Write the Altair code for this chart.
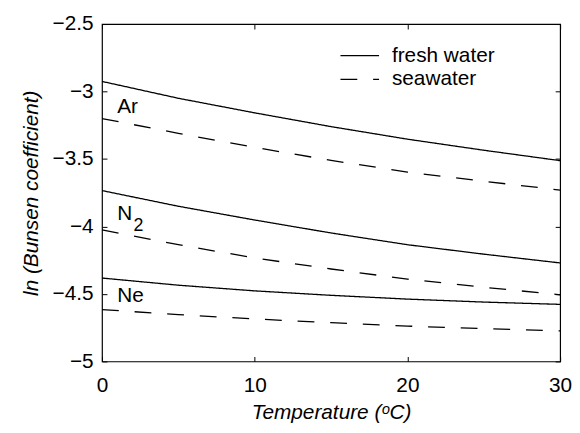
import altair as alt
import pandas as pd

temps = [0, 5, 10, 15, 20, 25, 30]
ar_fresh = [-2.925, -3.050, -3.158, -3.260, -3.353, -3.435, -3.512]
ar_sea = [-3.200, -3.310, -3.414, -3.510, -3.597, -3.665, -3.730]
n2_fresh = [-3.734, -3.850, -3.952, -4.048, -4.135, -4.205, -4.270]
n2_sea = [-4.025, -4.135, -4.233, -4.315, -4.390, -4.450, -4.506]
ne_fresh = [-4.382, -4.435, -4.477, -4.510, -4.538, -4.560, -4.577]
ne_sea = [-4.616, -4.653, -4.685, -4.713, -4.738, -4.757, -4.773]

series = [
    ("Ar", "fresh water", ar_fresh),
    ("Ar", "seawater", ar_sea),
    ("N2", "fresh water", n2_fresh),
    ("N2", "seawater", n2_sea),
    ("Ne", "fresh water", ne_fresh),
    ("Ne", "seawater", ne_sea),
]

gas_labels = ["Ar", "N", "Ne"]
gas_label_x = [1.0, 1.0, 1.0]
gas_label_y = [-3.158, -3.952, -4.558]
sub_labels = ["2"]
sub_label_x = [2.07]
sub_label_y = [-4.036]

x_ticks = [0, 10, 20, 30]
y_ticks = [-5, -4.5, -4, -3.5, -3, -2.5]

rows = []
for gas, water, vals in series:
    for t, v in zip(temps, vals):
        rows.append({"T": t, "value": v, "gas": gas, "water": water})
df = pd.DataFrame(rows)

lab_df = pd.DataFrame({"lx": gas_label_x, "ly": gas_label_y, "txt": gas_labels})
sub_df = pd.DataFrame({"lx": sub_label_x, "ly": sub_label_y, "txt": sub_labels})

FONT = "Liberation Sans, Arial, Helvetica, sans-serif"
FS = 21

x_scale = alt.Scale(domain=[0, 30], nice=False, zero=False)
y_scale = alt.Scale(domain=[-5, -2.5], nice=False, zero=False)

lines = alt.Chart(df).mark_line(color="black", strokeWidth=1.3).encode(
    x=alt.X("T:Q", scale=x_scale,
            axis=alt.Axis(values=x_ticks, format="d", title="Temperature (ᵒC)",
                          titleFontStyle="italic", titleFontWeight="normal",
                          titleFontSize=FS, titleFont=FONT, titleColor="black",
                          titleY=63, titleBaseline="alphabetic",
                          offset=-5, tickSize=5, tickColor="black", tickWidth=1,
                          domain=False, grid=False, labelPadding=13,
                          labelFlush=False, labelFont=FONT, labelFontSize=FS,
                          labelColor="black")),
    y=alt.Y("value:Q", scale=y_scale,
            axis=alt.Axis(values=y_ticks, format="~g", title="ln (Bunsen coefficient)",
                          titleFontStyle="italic", titleFontWeight="normal",
                          titleFontSize=FS, titleFont=FONT, titleColor="black",
                          titleX=-70, titleBaseline="alphabetic",
                          offset=-5, tickSize=5, tickColor="black", tickWidth=1,
                          domain=False, grid=False, labelPadding=9,
                          labelFlush=False, labelFont=FONT, labelFontSize=FS,
                          labelColor="black")),
    strokeDash=alt.StrokeDash(
        "water:N",
        scale=alt.Scale(domain=["fresh water", "seawater"], range=[[1, 0], [17, 16]]),
        legend=alt.Legend(title=None, orient="none", legendX=240, legendY=20,
                          symbolType="stroke", symbolSize=1521, symbolStrokeWidth=1.3,
                          symbolStrokeColor="black", labelFont=FONT, labelFontSize=FS,
                          labelColor="black", labelOffset=12, clipHeight=24,
                          rowPadding=0, padding=0)),
    detail="gas:N",
)

labels = alt.Chart(lab_df).mark_text(align="left", baseline="alphabetic", font=FONT,
                                      fontSize=FS, color="black").encode(
    x=alt.X("lx:Q", scale=x_scale,
            axis=alt.Axis(orient="top", values=x_ticks, labels=False, title=None,
                          offset=-5, tickSize=5, tickColor="black", tickWidth=1,
                          domain=False, grid=False)),
    y=alt.Y("ly:Q", scale=y_scale,
            axis=alt.Axis(orient="right", values=y_ticks, labels=False, title=None,
                          offset=-5, tickSize=5, tickColor="black", tickWidth=1,
                          domain=False, grid=False)),
    text="txt:N",
)

subs = alt.Chart(sub_df).mark_text(align="left", baseline="alphabetic", font=FONT,
                                    fontSize=18, color="black").encode(
    x=alt.X("lx:Q", scale=x_scale, axis=None),
    y=alt.Y("ly:Q", scale=y_scale, axis=None),
    text="txt:N",
)

chart = alt.layer(lines, labels, subs).resolve_axis(
    x="independent", y="independent"
).properties(
    width=463, height=341,
    autosize=alt.AutoSizeParams(type="none"),
    padding={"left": 95, "top": 14, "right": 12, "bottom": 62},
    background="white",
).configure_view(stroke="black", strokeWidth=1.2)

chart.save("out.html", embed_options={"renderer": "svg", "actions": False})
